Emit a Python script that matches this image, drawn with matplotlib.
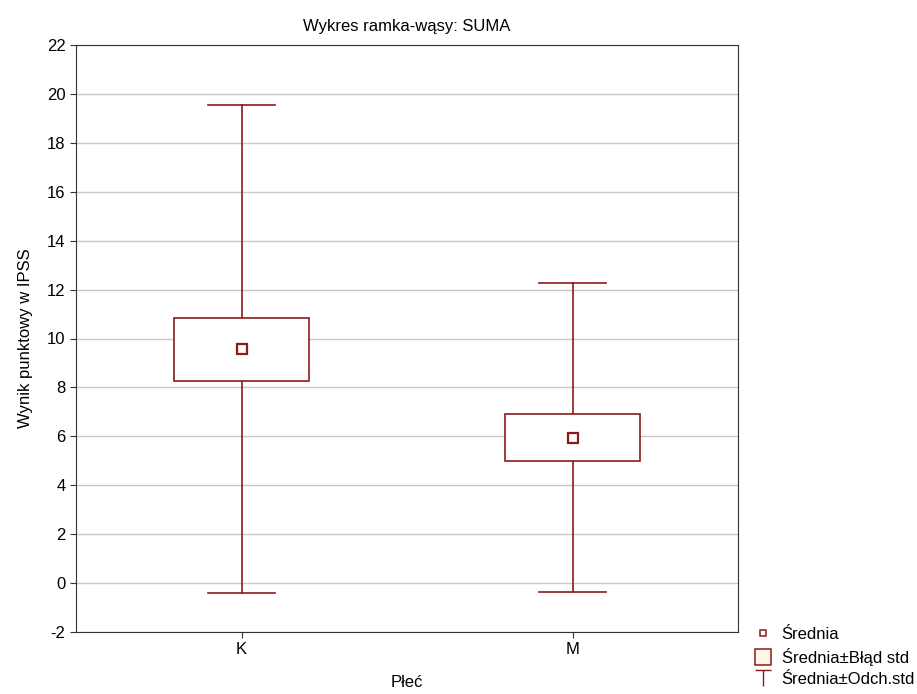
import numpy as np
import matplotlib
matplotlib.use("Agg")
import matplotlib.pyplot as plt
from matplotlib.lines import Line2D
from matplotlib.patches import Rectangle
from matplotlib.path import Path

plt.rcParams['font.family'] = ['Liberation Sans', 'DejaVu Sans']
plt.rcParams['axes.unicode_minus'] = False

groups = ["K", "M"]
means = [9.56, 5.95]
std_err = [1.29, 0.96]
std_dev = [9.97, 6.33]

col = "#8b1a1a"

fig = plt.figure(figsize=(9.17, 6.94), dpi=100)
ax = fig.add_axes([76/917, 1 - 632/694, 662/917, 587/694])

x = np.arange(len(groups))
box_w = 0.405
cap_w = 0.2
for xi, m, se, sd in zip(x, means, std_err, std_dev):
    # wąsy
    ax.plot([xi, xi], [m + se, m + sd], color=col, lw=1.2, zorder=3)
    ax.plot([xi, xi], [m - sd, m - se], color=col, lw=1.2, zorder=3)
    ax.plot([xi - cap_w/2, xi + cap_w/2], [m + sd, m + sd], color=col, lw=1.2, zorder=3)
    ax.plot([xi - cap_w/2, xi + cap_w/2], [m - sd, m - sd], color=col, lw=1.2, zorder=3)
    ax.add_patch(Rectangle((xi - box_w/2, m - se), box_w, 2*se, facecolor="white",
                           edgecolor=col, lw=1.2, zorder=4))
    ax.plot(xi, m, marker="s", ms=7, mfc="white", mec=col, mew=1.6, zorder=5)

ax.set_xlim(-0.5, 1.5)
ax.set_ylim(-2, 22)
ax.set_yticks(np.arange(-2, 23, 2))
ax.set_xticks(x)
ax.set_xticklabels(groups)
ax.tick_params(labelsize=12, direction="out", length=4, color="#333333")
ax.yaxis.grid(True, color="#c8c8c8", lw=1)
ax.set_axisbelow(True)
for s in ax.spines.values():
    s.set_color("#333333")

ax.set_title("Wykres ramka-wąsy: SUMA", fontsize=12, pad=10)
ax.set_ylabel("Wynik punktowy w IPSS", fontsize=12, labelpad=10)
ax.set_xlabel("Płeć", fontsize=12, labelpad=13)

wh = Path([(-1, 1), (1, 1), (0, 1), (0, -1)],
          [Path.MOVETO, Path.LINETO, Path.MOVETO, Path.LINETO])
handles = [
    Line2D([], [], ls="none", marker="s", ms=5, mfc="white", mec=col, mew=1.1),
    Line2D([], [], ls="none", marker="s", ms=11, mfc="#fff8e8", mec=col, mew=1.1),
    Line2D([], [], ls="none", marker=wh, ms=11, mec=col, mew=1.0),
]
labels = ["Średnia", "Średnia±Błąd std", "Średnia±Odch.std"]
fig.legend(handles, labels, loc="lower left", bbox_to_anchor=(744/917, -0.005),
           frameon=False, fontsize=12, handlelength=1.0, handletextpad=0.6,
           labelspacing=0.35, borderpad=0.15)

fig.savefig("out.png", dpi=100)
